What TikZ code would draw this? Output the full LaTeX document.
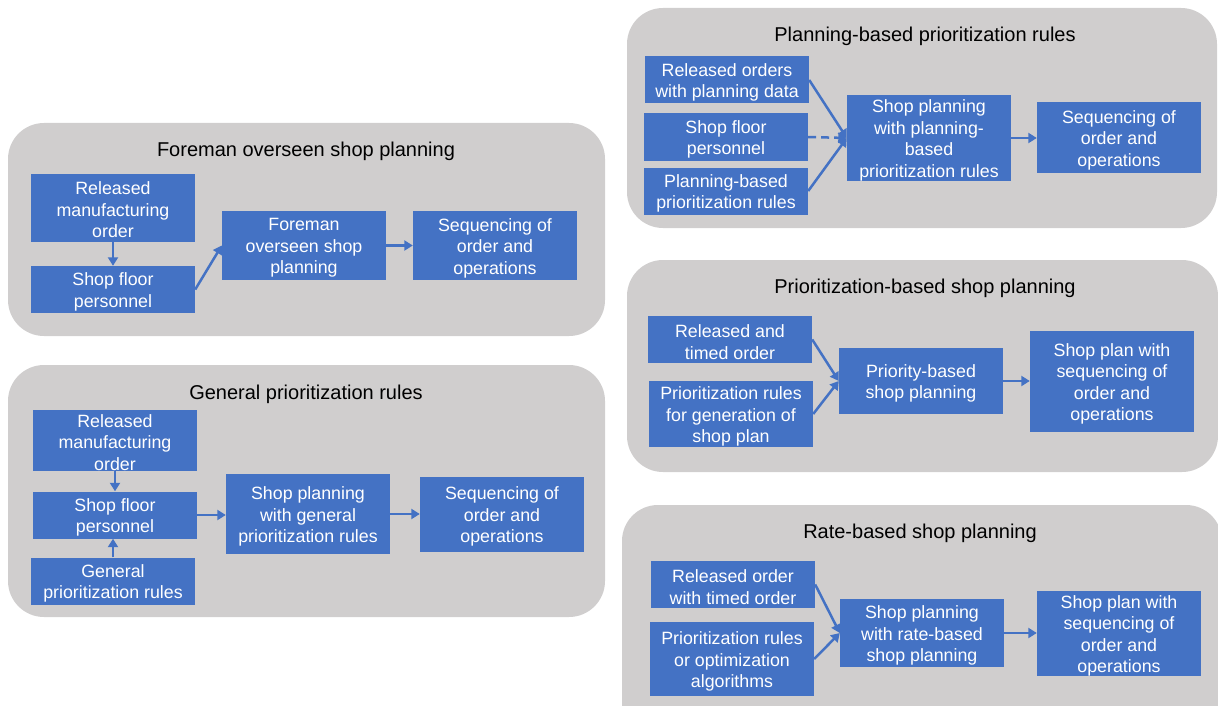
\documentclass[tikz,border=0pt]{standalone}
\usepackage{fontspec}
\setmainfont{Liberation Sans}
\usetikzlibrary{arrows.meta}
\definecolor{boxblue}{HTML}{4472C4}
\definecolor{panelgray}{HTML}{D0CECE}
\newcommand{\boxfont}{\fontsize{17.8}{21.5}\selectfont}
\newcommand{\titlefont}{\fontsize{20}{24}\selectfont}
\tikzset{
  panel/.style={fill=panelgray, draw=none, rounded corners=36pt},
  blkfill/.style={fill=boxblue, draw=none, inner sep=0pt},
  blktext/.style={text=white, align=center, inner sep=0pt, font=\boxfont},
  ttl/.style={text=black, font=\titlefont, inner sep=0pt},
  arr/.style={draw=boxblue, line width=2.5pt, -{Triangle[length=8.5pt,width=10pt]}},
  dsh/.style={dash pattern=on 8pt off 5pt}
}
% blue box: name, centre x, centre y, width, height, label
\newcommand{\blkbox}[6]{%
  \node[blkfill, minimum width=#4pt, minimum height=#5pt] (#1) at (#2,#3) {};
  \node[blktext] (#1-txt) at ([yshift=-2.5pt]#1.center) {#6};}
\begin{document}
\begin{tikzpicture}[x=1pt,y=-1pt]
\useasboundingbox (0,0) rectangle (1218,706);
\begin{scope}
\clip (0,0) rectangle (1218,706);
% background panels
\path[panel] (8,123) rectangle (605,336);
\path[panel] (8,365) rectangle (605,617);
\path[panel] (627,8) rectangle (1217,228);
\path[panel] (627,260) rectangle (1218,472);
\path[panel] (622,505) rectangle (1222,740);
\end{scope}

% ---- Foreman overseen shop planning
\node[ttl] (t1) at (306,151.5) {Foreman overseen shop planning};
\blkbox{a1}{113}{207.5}{164}{68}{Released\\manufacturing\\order}
\blkbox{a2}{113}{289.5}{164}{47}{Shop floor\\personnel}
\blkbox{a3}{304}{245.5}{164}{69}{Foreman\\overseen shop\\planning}
\blkbox{a4}{495}{245.5}{164}{69}{Sequencing of\\order and\\operations}
\draw[arr] (a1.south) -- (a2.north);
\draw[arr] (a2.east) -- (a3.west);
\draw[arr] (a3.east) -- (a4.west);

% ---- General prioritization rules
\node[ttl] (t2) at (306,394.5) {General prioritization rules};
\blkbox{b1}{115}{440}{164}{61}{Released\\manufacturing\\order}
\blkbox{b2}{115}{515}{164}{47}{Shop floor\\personnel}
\blkbox{b3}{113}{581}{164}{47}{General\\prioritization rules}
\blkbox{b4}{308}{514}{164}{80}{Shop planning\\with general\\prioritization rules}
\blkbox{b5}{502}{514}{164}{75}{Sequencing of\\order and\\operations}
\draw[arr] (b1.south) -- (b2.north);
\draw[arr] (b3.north) -- (b3.north |- b2.south);
\draw[arr] (b2.east) -- (b2.east -| b4.west);
\draw[arr] (b4.east) -- (b5.west);

% ---- Planning-based prioritization rules
\node[ttl] (t3) at (925,36.5) {Planning-based prioritization rules};
\blkbox{c1}{727}{80}{164}{47}{Released orders\\with planning data}
\blkbox{c2}{726}{137}{164}{47}{Shop floor\\personnel}
\blkbox{c3}{726}{191}{164}{47}{Planning-based\\prioritization rules}
\blkbox{c4}{929}{138}{164}{86}{Shop planning\\with planning-\\based\\prioritization rules}
\blkbox{c5}{1119}{137.5}{164}{71}{Sequencing of\\order and\\operations}
\draw[arr] (c1.east) -- (c4.west);
\draw[arr, dsh] (c2.east) -- (c4.west);
\draw[arr] (c3.east) -- (c4.west);
\draw[arr] (c4.east) -- (c4.east -| c5.west);

% ---- Prioritization-based shop planning
\node[ttl] (t4) at (925,288.5) {Prioritization-based shop planning};
\blkbox{d1}{730}{339.5}{164}{47}{Released and\\timed order}
\blkbox{d2}{731}{414}{164}{66}{Prioritization rules\\for generation of\\shop plan}
\blkbox{d3}{921}{381}{164}{66}{Priority-based\\shop planning}
\blkbox{d4}{1112}{381.5}{164}{101}{Shop plan with\\sequencing of\\order and\\operations}
\draw[arr] (d1.east) -- (d3.west);
\draw[arr] (d2.east) -- (d3.west);
\draw[arr] (d3.east) -- (d3.east -| d4.west);

% ---- Rate-based shop planning
\node[ttl] (t5) at (920,533.5) {Rate-based shop planning};
\blkbox{e1}{733}{584.5}{164}{47}{Released order\\with timed order}
\blkbox{e2}{732}{659}{164}{74}{Prioritization rules\\or optimization\\algorithms}
\blkbox{e3}{922}{633}{164}{68}{Shop planning\\with rate-based\\shop planning}
\blkbox{e4}{1119}{633.5}{164}{85}{Shop plan with\\sequencing of\\order and\\operations}
\draw[arr] (e1.east) -- (e3.west);
\draw[arr] (e2.east) -- (e3.west);
\draw[arr] (e3.east) -- (e3.east -| e4.west);
\end{tikzpicture}
\end{document}
